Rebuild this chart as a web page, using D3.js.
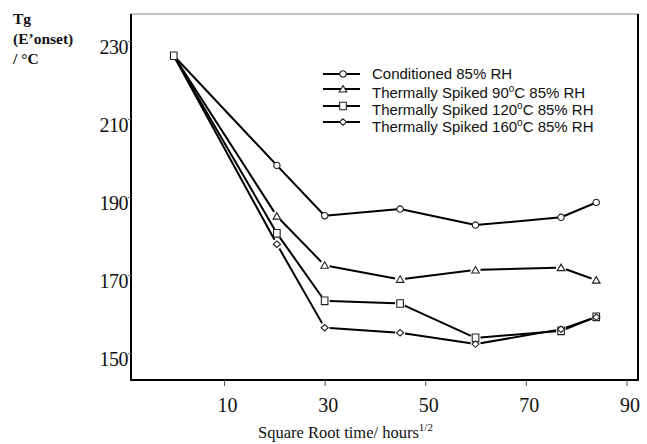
<!DOCTYPE html>
<html><head><meta charset="utf-8">
<script src="https://cdn.jsdelivr.net/npm/d3@7"></script>
<style>body{margin:0;background:#fff}svg{display:block}</style>
</head><body>
<svg id="c" width="647" height="444"></svg>
<script>
const xTimes = [0, 20.5, 30, 45, 60, 77, 84];
const conditioned = [226.2, 198.1, 185.2, 186.9, 182.8, 184.8, 188.6];
const spiked90 = [226.2, 185.1, 172.5, 168.9, 171.3, 171.9, 168.7];
const spiked120 = [226.2, 180.7, 163.4, 162.7, 153.9, 155.7, 159.3];
const spiked160 = [226.2, 177.9, 156.5, 155.2, 152.3, 156.1, 159.2];
const xTicks = [10, 30, 50, 70, 90];
const yTicks = [150, 170, 190, 210, 230];
const seriesNames = ["Conditioned 85% RH", "Thermally Spiked 90", "Thermally Spiked 120", "Thermally Spiked 160"];

const svg = d3.select("#c");
const L = 131, R = 638, T = 14, B = 380;
const x = d3.scaleLinear().domain([-8.5, 92.3]).range([L, R]);
const y = d3.scaleLinear().domain([143.1, 236.9]).range([B, T]);

// frame
svg.append("line").attr("x1", L).attr("x2", R).attr("y1", T).attr("y2", T).attr("stroke", "#888").attr("stroke-width", 1);
svg.append("line").attr("x1", R).attr("x2", R).attr("y1", T).attr("y2", B).attr("stroke", "#000").attr("stroke-width", 2);

// axes
const xa = svg.append("g").attr("transform", `translate(0,${B})`)
  .call(d3.axisBottom(x).tickValues(xTicks).tickSize(6).tickSizeOuter(0).tickPadding(12));
xa.select(".domain").attr("stroke", "#000").attr("stroke-width", 2).attr("d", `M${L - 1},0H${R + 1}`);
xa.selectAll(".tick line").attr("stroke", "#555");
xa.selectAll(".tick text").attr("font-family", "Liberation Serif").attr("font-size", 20).attr("fill", "#111").attr("dx", 3);

const ya = svg.append("g").attr("transform", `translate(${L},0)`)
  .call(d3.axisLeft(y).tickValues(yTicks).tickSize(3).tickSizeOuter(0).tickPadding(0));
ya.select(".domain").attr("stroke", "#000").attr("stroke-width", 2).attr("d", `M0,${T}V${B + 1}`);
ya.selectAll(".tick line").attr("stroke", "#777");
ya.selectAll(".tick text").attr("font-family", "Liberation Serif").attr("font-size", 20).attr("fill", "#111").attr("dy", "0.62em").attr("letter-spacing", -0.5);

// axis titles
const yt = svg.append("text").attr("font-family", "Liberation Serif").attr("font-weight", "bold").attr("font-size", 15.5).attr("fill", "#111");
yt.append("tspan").attr("x", 13).attr("y", 24).text("Tg");
yt.append("tspan").attr("x", 13).attr("y", 44).text("(E\u2019onset)");
yt.append("tspan").attr("x", 13).attr("y", 64).text("/ \u00B0C");

const xt = svg.append("text").attr("x", 258).attr("y", 438).attr("font-family", "Liberation Serif").attr("font-size", 16.5).attr("fill", "#111");
xt.append("tspan").text("Square Root time/ hours");
xt.append("tspan").attr("font-size", 11).attr("dy", -7).text("1/2");

// series
const shapes = ["circle", "triangle", "square", "diamond"];
const data = [conditioned, spiked90, spiked120, spiked160];
const gaps = [0, 5, 5, 5];

function marker(g, shape, cx, cy) {
  const s = g.append("path").attr("fill", "#fff").attr("stroke", "#222").attr("stroke-width", 1.1);
  let d;
  if (shape === "circle") d = d3.symbol(d3.symbolCircle, 32)();
  else if (shape === "triangle") d = `M0,-3.5L3.8,3L-3.8,3Z`;
  else if (shape === "square") d = `M-3.3,-3.8H3.3V3.8H-3.3Z`;
  else d = `M0,-3.2L3.6,0L0,3.2L-3.6,0Z`;
  s.attr("d", d).attr("transform", `translate(${cx},${cy})`);
}

const gAll = svg.append("g");
data.forEach((vals, si) => {
  const pts = vals.map((v, i) => [x(xTimes[i]), y(v)]);
  const g = gAll.append("g");
  for (let i = 0; i < pts.length - 1; i++) {
    const [x1, y1] = pts[i], [x2, y2] = pts[i + 1];
    const len = Math.hypot(x2 - x1, y2 - y1);
    const ux = (x2 - x1) / len, uy = (y2 - y1) / len;
    const g1 = i === 0 ? 0 : gaps[si], g2 = gaps[si];
    g.append("line")
      .attr("x1", x1 + ux * g1).attr("y1", y1 + uy * g1)
      .attr("x2", x2 - ux * g2).attr("y2", y2 - uy * g2)
      .attr("stroke", "#000").attr("stroke-width", 2);
  }
});
data.forEach((vals, si) => {
  vals.forEach((v, i) => { if (i > 0) marker(gAll, shapes[si], x(xTimes[i]), y(v)); });
});
marker(gAll, "square", x(xTimes[0]), y(spiked120[0]));

// legend
const lg = svg.append("g");
const rowsY = [74, 89, 106, 122];
const textY = [79, 98, 115, 132];
rowsY.forEach((ry, i) => {
  lg.append("line").attr("x1", 323).attr("x2", 360).attr("y1", ry).attr("y2", ry).attr("stroke", "#000").attr("stroke-width", 2);
  marker(lg, shapes[i], 343, ry);
  const t = lg.append("text").attr("x", 372).attr("y", textY[i]).attr("font-family", "Liberation Sans").attr("font-size", 15).attr("fill", "#111");
  if (i === 0) t.text(seriesNames[0]);
  else {
    t.append("tspan").text(seriesNames[i]);
    t.append("tspan").attr("font-size", 10).attr("dy", -6).text("o");
    t.append("tspan").attr("dy", 6).text("C 85% RH");
  }
});
</script>
</body></html>
